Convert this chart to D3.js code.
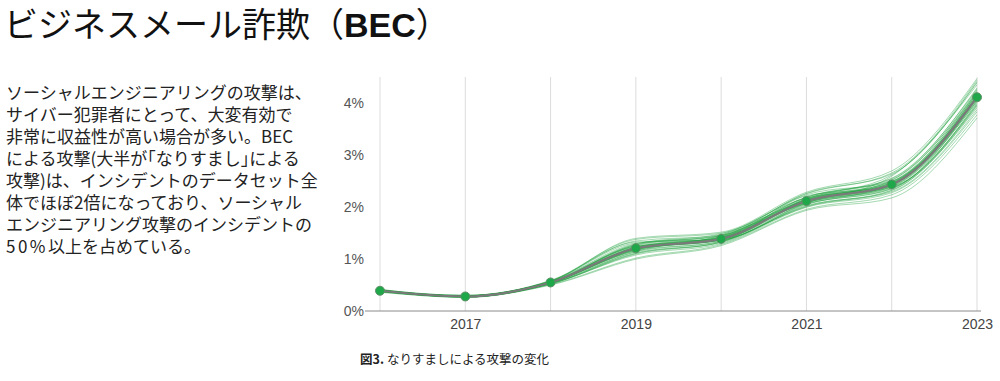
<!DOCTYPE html>
<html>
<head>
<meta charset="utf-8">
<script src="https://cdn.jsdelivr.net/npm/d3@7"></script>
<style>
  body { margin: 0; background: #fff; }
  svg text { font-family: "Noto Sans CJK JP", "Noto Sans", sans-serif; }
  .axis text { font-family: "Liberation Sans Narrow", "Liberation Sans", Arial, sans-serif; font-size: 14px; fill: #555; }
  .axis path, .axis line { display: none; }
</style>
</head>
<body>
<svg id="chart" width="1000" height="381"></svg>
<script>
// data (percent of incidents)
var years = [2016, 2017, 2018, 2019, 2020, 2021, 2022, 2023];
var impersonation = [0.39, 0.28, 0.55, 1.21, 1.39, 2.12, 2.44, 4.12];
var yTicks = [0, 1, 2, 3, 4];
var xTickLabels = [2017, 2019, 2021, 2023];

// thin green lines around the main line
var runs = [
  [0.40, 0.29, 0.57, 1.30, 1.45, 2.20, 2.55, 4.30],
  [0.38, 0.27, 0.52, 1.10, 1.33, 2.02, 2.33, 3.92],
  [0.41, 0.30, 0.59, 1.38, 1.50, 2.26, 2.66, 4.45],
  [0.37, 0.26, 0.51, 1.02, 1.28, 1.96, 2.24, 3.78],
  [0.39, 0.28, 0.55, 1.20, 1.40, 2.14, 2.47, 4.15],
  [0.40, 0.27, 0.58, 1.33, 1.38, 2.08, 2.60, 4.36],
  [0.38, 0.29, 0.53, 1.15, 1.46, 2.18, 2.38, 4.02],
  [0.39, 0.30, 0.55, 1.24, 1.36, 2.05, 2.45, 4.10],
  [0.42, 0.28, 0.57, 1.40, 1.52, 2.29, 2.70, 4.48],
  [0.36, 0.27, 0.50, 1.00, 1.26, 1.94, 2.18, 3.72],
  [0.39, 0.28, 0.56, 1.26, 1.42, 2.12, 2.52, 4.22],
  [0.40, 0.29, 0.56, 1.16, 1.34, 2.22, 2.40, 3.98],
  [0.38, 0.27, 0.54, 1.27, 1.47, 2.07, 2.35, 4.12],
  [0.39, 0.29, 0.58, 1.31, 1.39, 2.16, 2.62, 4.40],
  [0.40, 0.28, 0.52, 1.12, 1.32, 2.03, 2.30, 3.88],
  [0.38, 0.30, 0.56, 1.21, 1.44, 2.24, 2.50, 4.20],
  [0.41, 0.27, 0.55, 1.29, 1.49, 2.13, 2.44, 4.06],
  [0.37, 0.28, 0.53, 1.08, 1.30, 2.00, 2.28, 3.84],
  [0.39, 0.29, 0.56, 1.19, 1.41, 2.19, 2.56, 4.28],
  [0.40, 0.28, 0.55, 1.22, 1.38, 2.11, 2.43, 4.11],
  [0.38, 0.27, 0.55, 1.17, 1.42, 2.15, 2.47, 4.16],
  [0.39, 0.29, 0.54, 1.25, 1.36, 2.08, 2.40, 4.04],
  [0.41, 0.30, 0.58, 1.35, 1.46, 2.27, 2.64, 4.42],
  [0.39, 0.28, 0.53, 1.11, 1.33, 2.01, 2.32, 3.95],
  [0.40, 0.28, 0.56, 1.21, 1.40, 2.12, 2.44, 4.13],
  [0.38, 0.29, 0.55, 1.18, 1.39, 2.17, 2.49, 4.24],
  [0.39, 0.27, 0.54, 1.23, 1.43, 2.09, 2.37, 4.00],
  [0.40, 0.29, 0.55, 1.20, 1.37, 2.14, 2.48, 4.18],
  [0.38, 0.28, 0.57, 1.28, 1.45, 2.19, 2.53, 4.26],
  [0.39, 0.28, 0.54, 1.14, 1.35, 2.06, 2.36, 3.97],
  [0.40, 0.29, 0.56, 1.24, 1.41, 2.10, 2.42, 4.08],
  [0.39, 0.28, 0.55, 1.19, 1.38, 2.15, 2.46, 4.14],
  [0.38, 0.28, 0.54, 1.22, 1.40, 2.13, 2.45, 4.19],
  [0.40, 0.28, 0.56, 1.20, 1.39, 2.11, 2.41, 4.09],
  [0.39, 0.29, 0.55, 1.23, 1.42, 2.16, 2.50, 4.21],
  [0.39, 0.27, 0.54, 1.18, 1.37, 2.09, 2.39, 4.05]
];

var titleText = "ビジネスメール詐欺";
var bodyLines = [
  "ソーシャルエンジニアリングの攻撃は、",
  "サイバー犯罪者にとって、大変有効で",
  "非常に収益性が高い場合が多い。BEC",
  "による攻撃(大半が「なりすまし」による",
  "攻撃)は、インシデントのデータセット全",
  "体でほぼ2倍になっており、ソーシャル",
  "エンジニアリング攻撃のインシデントの",
  "50%以上を占めている。"
];
var captionNum = "図3.";
var captionText = "なりすましによる攻撃の変化";

var svg = d3.select("#chart");

/* title */
var title = svg.append("text")
  .attr("x", 4).attr("y", 37)
  .style("font-size", "34px").style("fill", "#111");
title.append("tspan").text(titleText + "（");
title.append("tspan").style("font-weight", "bold")
  .style("font-family", "'Liberation Sans', Arial, sans-serif").text("BEC");
title.append("tspan").text("）");

/* body text, brackets set half width like the original */
var body = svg.append("g").selectAll("text")
  .data(bodyLines)
  .enter()
  .append("text")
  .attr("x", 6)
  .attr("y", function(d, i) { return 99 + i * 22; })
  .style("font-size", "17px")
  .style("fill", "#222");

body.each(function(d) {
  var t = d3.select(this);
  var parts = d.split(/([「」]|50%)/);
  parts.forEach(function(p) {
    if (p == "") return;
    var s = t.append("tspan").text(p);
    if (p == "「" || p == "」") s.style("font-feature-settings", "'halt'");
    if (p == "50%") s.style("letter-spacing", "2.5px");
  });
});

/* chart */
var x = d3.scaleLinear().domain([2016, 2023]).range([380, 977]);
var y = d3.scaleLinear().domain([0, 4]).range([311, 103.5]);

svg.append("g").selectAll("line")
  .data(years)
  .enter()
  .append("line")
  .attr("x1", function(d) { return x(d); })
  .attr("x2", function(d) { return x(d); })
  .attr("y1", 77)
  .attr("y2", y(0))
  .style("stroke", "#dcdcdc")
  .style("stroke-width", 1);

svg.append("line")
  .attr("x1", 365).attr("x2", 981)
  .attr("y1", y(0)).attr("y2", y(0))
  .style("stroke", "#8a8a8a").style("stroke-width", 1);

var yAxis = svg.append("g").attr("class", "axis")
  .attr("transform", "translate(364,0)")
  .call(d3.axisLeft(y).tickValues(yTicks).tickSize(0)
        .tickFormat(function(d) { return d + "%"; }));
yAxis.selectAll("text").attr("x", 0);

var xAxis = svg.append("g").attr("class", "axis")
  .attr("transform", "translate(0," + y(0) + ")")
  .call(d3.axisBottom(x).tickValues(xTickLabels).tickSize(0)
        .tickFormat(d3.format("d")));
xAxis.selectAll("text").attr("y", 8).style("fill", "#444");

var line = d3.line()
  .x(function(d, i) { return x(years[i]); })
  .y(function(d) { return y(d); })
  .curve(d3.curveMonotoneX);

svg.append("g").selectAll("path")
  .data(runs)
  .enter()
  .append("path")
  .attr("d", line)
  .style("fill", "none")
  .style("stroke", "#1f9f3c")
  .style("stroke-opacity", 0.4)
  .style("stroke-width", 1);

svg.append("path")
  .attr("d", line(impersonation))
  .style("fill", "none")
  .style("stroke", "#7a7a7a")
  .style("stroke-width", 2.2);

svg.append("g").selectAll("circle")
  .data(impersonation)
  .enter()
  .append("circle")
  .attr("cx", function(d, i) { return x(years[i]); })
  .attr("cy", function(d) { return y(d); })
  .attr("r", 4.5)
  .style("fill", "#1fa84a")
  .style("stroke", "#5f8f68")
  .style("stroke-width", 1);

/* caption */
var cap = svg.append("text")
  .attr("x", 360).attr("y", 364)
  .style("font-size", "12.5px").style("fill", "#222");
cap.append("tspan").style("font-weight", "bold").text(captionNum);
cap.append("tspan").attr("dx", 3).text(captionText);
</script>
</body>
</html>
